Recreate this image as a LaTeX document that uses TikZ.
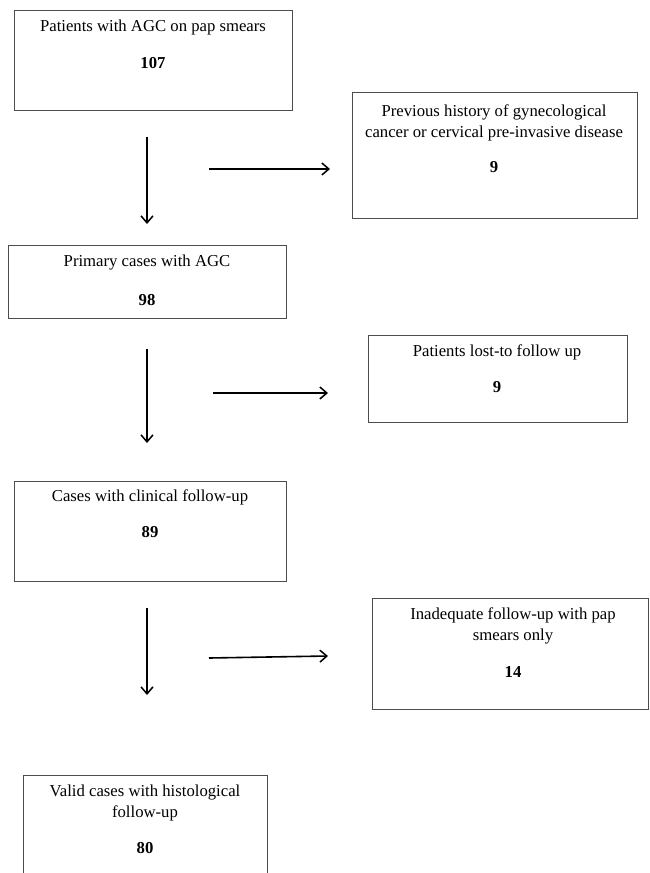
\documentclass[tikz,border=0pt]{standalone}
\usepackage{fontspec}
\setmainfont{Liberation Serif}
\usetikzlibrary{arrows.meta}
\begin{document}
\begin{tikzpicture}[x=1pt,y=-1pt,
  box/.style={draw=black!70,line width=1pt,anchor=north west,inner sep=0pt},
  lbl/.style={font=\fontsize{16.7}{21.5}\selectfont,align=center,inner sep=0pt},
  num/.style={font=\fontsize{16.7}{21.5}\selectfont\bfseries,inner sep=0pt},
  arr/.style={line width=1.6pt,-{Straight Barb[length=7pt,width=12pt,line width=1.5pt]}}]
\useasboundingbox (0,0) rectangle (649,873);
% boxes
\node[box,minimum width=278pt,minimum height=100pt] (b1) at (14,10) {};
\node[box,minimum width=285pt,minimum height=126pt] (b2) at (352,92) {};
\node[box,minimum width=278pt,minimum height=73pt] (b3) at (8,245) {};
\node[box,minimum width=259pt,minimum height=87pt] (b4) at (368,335) {};
\node[box,minimum width=272pt,minimum height=100pt] (b5) at (14,481) {};
\node[box,minimum width=276pt,minimum height=111pt] (b6) at (372,598) {};
\node[box,minimum width=244pt,minimum height=110pt] (b7) at (23,775) {};
% texts
\node[lbl] (t1) at (153,27) {Patients with AGC on pap smears};
\node[num] (n1) at (153,63) {107};
\node[lbl] (t2) at (494,123) {Previous history of gynecological\\cancer or cervical pre-invasive disease};
\node[num] (n2) at (494,167) {9};
\node[lbl] (t3) at (147,263) {Primary cases with AGC};
\node[num] (n3) at (147,300) {98};
\node[lbl] (t4) at (497,352) {Patients lost-to follow up};
\node[num] (n4) at (497,387) {9};
\node[lbl] (t5) at (150,497) {Cases with clinical follow-up};
\node[num] (n5) at (150,532) {89};
\node[lbl] (t6) at (513,626) {Inadequate follow-up with pap\\smears only};
\node[num] (n6) at (513,672) {14};
\node[lbl] (t7) at (145,803) {Valid cases with histological\\follow-up};
\node[num] (n7) at (145,848) {80};
% arrow endpoints
\coordinate (v1s) at (147,137); \coordinate (v1e) at (147,224);
\coordinate (h1s) at (209,169); \coordinate (h1e) at (330,169);
\coordinate (v2s) at (147,349); \coordinate (v2e) at (147,443);
\coordinate (h2s) at (213,393); \coordinate (h2e) at (328,393);
\coordinate (v3s) at (147,608); \coordinate (v3e) at (147,695);
\coordinate (h3s) at (209,658); \coordinate (h3e) at (328,656);
\draw[arr] (v1s) -- (v1e);
\draw[arr] (h1s) -- (h1e);
\draw[arr] (v2s) -- (v2e);
\draw[arr] (h2s) -- (h2e);
\draw[arr] (v3s) -- (v3e);
\draw[arr] (h3s) -- (h3e);
\end{tikzpicture}
\end{document}
